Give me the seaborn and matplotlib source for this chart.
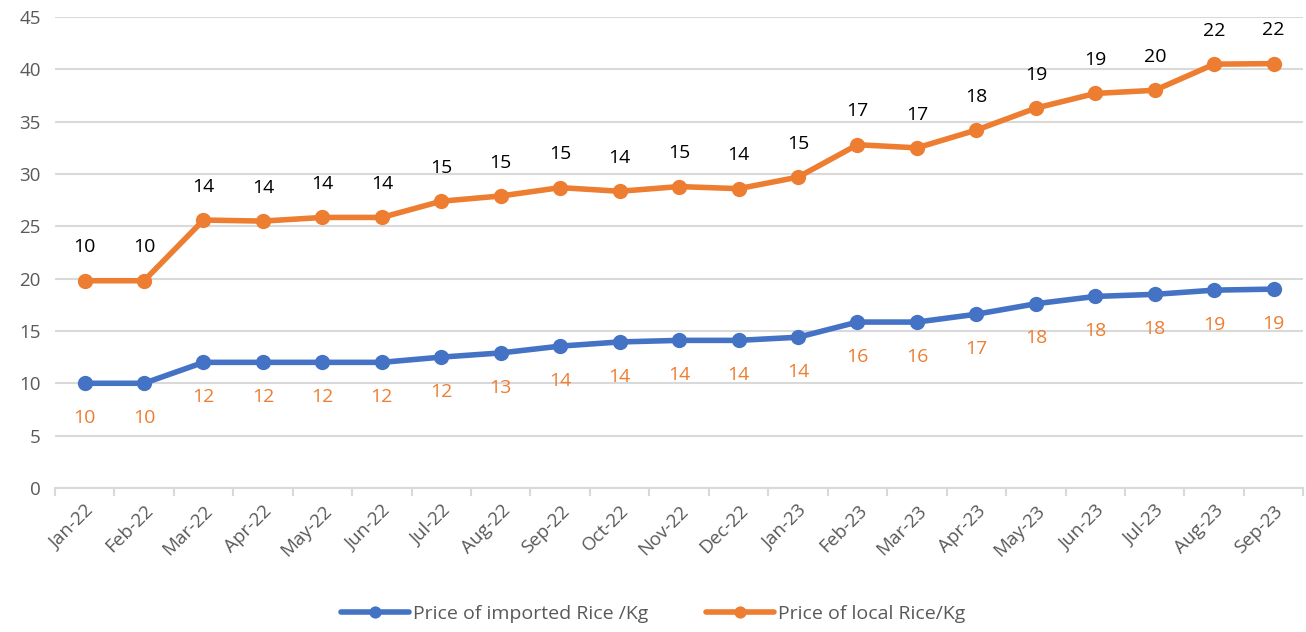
import pandas as pd
import seaborn as sns
import matplotlib.pyplot as plt
from matplotlib.ticker import FixedLocator

# Data
months = ['Jan-22', 'Feb-22', 'Mar-22', 'Apr-22', 'May-22', 'Jun-22', 'Jul-22',
          'Aug-22', 'Sep-22', 'Oct-22', 'Nov-22', 'Dec-22', 'Jan-23', 'Feb-23',
          'Mar-23', 'Apr-23', 'May-23', 'Jun-23', 'Jul-23', 'Aug-23', 'Sep-23']
imported = [10.0, 10.0, 12.0, 12.0, 12.0, 12.0, 12.5, 12.9, 13.55, 13.95, 14.1,
            14.1, 14.4, 15.85, 15.85, 16.6, 17.6, 18.3, 18.5, 18.9, 19.0]
local = [19.8, 19.8, 25.6, 25.5, 25.85, 25.85, 27.4, 27.9, 28.7, 28.35, 28.8,
         28.6, 29.7, 32.8, 32.5, 34.2, 36.3, 37.7, 38.0, 40.5, 40.55]
# data labels as they appear on the chart
local_labels = [10, 10, 14, 14, 14, 14, 15, 15, 15, 14, 15, 14, 15, 17, 17, 18,
                19, 19, 20, 22, 22]
imported_labels = [10, 10, 12, 12, 12, 12, 12, 13, 14, 14, 14, 14, 14, 16, 16,
                   17, 18, 18, 18, 19, 19]

s_imp = 'Price of imported Rice /Kg'
s_loc = 'Price of local Rice/Kg'

df = pd.DataFrame({
    'month': months * 2,
    'price': imported + local,
    'series': [s_imp] * len(months) + [s_loc] * len(months),
})

sns.set_style('white')
plt.rcParams['font.family'] = ['Open Sans', 'DejaVu Sans']

blue = '#4472C4'
orange = '#ED7D31'
grey = '#595959'

fig, ax = plt.subplots(figsize=(13.06, 6.32), dpi=100)
fig.subplots_adjust(left=0.042, right=0.998, top=0.973, bottom=0.228)

sns.lineplot(data=df, x='month', y='price', hue='series',
             palette={s_imp: blue, s_loc: orange}, marker='o',
             markersize=11, markeredgewidth=0, linewidth=4, sort=False,
             ax=ax, legend=True)

# data labels
for i, m in enumerate(months):
    ax.annotate(str(local_labels[i]), (m, local[i]), xytext=(0, 24),
                textcoords='offset points', ha='center', va='center',
                fontsize=14, color='black')
    ax.annotate(str(imported_labels[i]), (m, imported[i]), xytext=(0, -25),
                textcoords='offset points', ha='center', va='center',
                fontsize=14, color=orange)

ax.set_ylim(0, 45)
ax.set_xlim(-0.5, len(months) - 0.5)
ax.set_yticks(range(0, 50, 5))
ax.yaxis.grid(True, color='#D9D9D9', linewidth=1.5)
ax.set_axisbelow(True)
ax.set_xlabel('')
ax.set_ylabel('')

for side in ['top', 'right', 'left']:
    ax.spines[side].set_visible(False)
ax.spines['bottom'].set_color('#D9D9D9')
ax.spines['bottom'].set_linewidth(1.5)

ax.tick_params(axis='y', length=0, labelsize=13.5, labelcolor=grey, pad=10)
ax.tick_params(axis='x', which='major', length=0, labelsize=13.5,
               labelcolor=grey, pad=10)
ax.xaxis.set_minor_locator(FixedLocator([i - 0.5 for i in range(len(months) + 1)]))
ax.tick_params(axis='x', which='minor', length=6, width=1.5, color='#D9D9D9',
               bottom=True)
plt.setp(ax.get_xticklabels(), rotation=45, ha='right', rotation_mode='anchor')

handles, labels = ax.get_legend_handles_labels()
ax.get_legend().remove()
fig.legend(handles, labels, loc='center', bbox_to_anchor=(0.5, 0.028), ncol=2,
           frameon=False, fontsize=14, labelcolor=grey, handlelength=3.5,
           handletextpad=0.2, columnspacing=3, markerscale=0.8)

fig.savefig('out.png', dpi=100)
